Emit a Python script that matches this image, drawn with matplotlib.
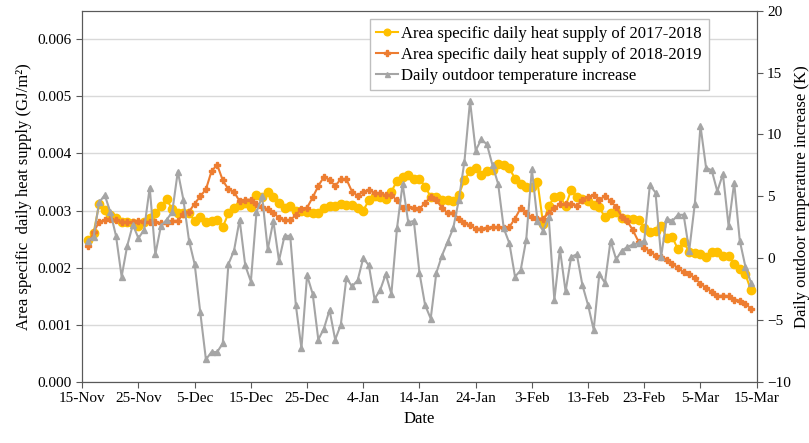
import matplotlib.pyplot as plt

plt.rcParams['font.family'] = ['Liberation Serif', 'DejaVu Serif']

# day offsets from 15-Nov (1 = 16-Nov ... 119 = 14-Mar)
days = list(range(1, 120))

tickPos = list(range(0, 121, 10))
tickLabels = ['15-Nov', '25-Nov', '5-Dec', '15-Dec', '25-Dec', '4-Jan', '14-Jan',
              '24-Jan', '3-Feb', '13-Feb', '23-Feb', '5-Mar', '15-Mar']

# area specific daily heat supply 2017-2018 (GJ/m2)
heat1718 = [
    0.00249, 0.00260, 0.00311, 0.00301, 0.00293, 0.00287, 0.00280, 0.00280, 0.00278, 0.00272,
    0.00280, 0.00287, 0.00295, 0.00308, 0.00320, 0.00302, 0.00295, 0.00295, 0.00296, 0.00281,
    0.00289, 0.00280, 0.00282, 0.00284, 0.00271, 0.00295, 0.00304, 0.00310, 0.00314, 0.00306,
    0.00327, 0.00323, 0.00333, 0.00323, 0.00313, 0.00304, 0.00308, 0.00299, 0.00299, 0.00298,
    0.00296, 0.00296, 0.00304, 0.00308, 0.00308, 0.00312, 0.00309, 0.00309, 0.00304, 0.00300,
    0.00318, 0.00325, 0.00323, 0.00321, 0.00333, 0.00352, 0.00359, 0.00362, 0.00356, 0.00356,
    0.00342, 0.00324, 0.00323, 0.00319, 0.00318, 0.00317, 0.00328, 0.00353, 0.00369, 0.00375,
    0.00363, 0.00369, 0.00371, 0.00382, 0.00380, 0.00374, 0.00356, 0.00347, 0.00342, 0.00342,
    0.00350, 0.00277, 0.00308, 0.00324, 0.00326, 0.00308, 0.00336, 0.00323, 0.00321, 0.00317,
    0.00309, 0.00306, 0.00288, 0.00296, 0.00298, 0.00287, 0.00285, 0.00286, 0.00284, 0.00270,
    0.00263, 0.00264, 0.00273, 0.00252, 0.00253, 0.00232, 0.00244, 0.00228, 0.00225, 0.00224,
    0.00218, 0.00227, 0.00228, 0.00221, 0.00220, 0.00206, 0.00197, 0.00188, 0.00160,
]

# area specific daily heat supply 2018-2019 (GJ/m2)
heat1819 = [
    0.00238, 0.00262, 0.00280, 0.00283, 0.00285, 0.00283, 0.00280, 0.00279, 0.00280, 0.00282,
    0.00280, 0.00280, 0.00279, 0.00278, 0.00278, 0.00282, 0.00282, 0.00294, 0.00298, 0.00312,
    0.00325, 0.00337, 0.00369, 0.00380, 0.00353, 0.00337, 0.00333, 0.00316, 0.00319, 0.00319,
    0.00311, 0.00306, 0.00302, 0.00296, 0.00287, 0.00283, 0.00283, 0.00292, 0.00303, 0.00305,
    0.00323, 0.00343, 0.00359, 0.00354, 0.00343, 0.00355, 0.00355, 0.00333, 0.00326, 0.00333,
    0.00336, 0.00331, 0.00330, 0.00327, 0.00327, 0.00318, 0.00304, 0.00306, 0.00305, 0.00302,
    0.00314, 0.00323, 0.00319, 0.00304, 0.00296, 0.00296, 0.00286, 0.00278, 0.00274, 0.00268,
    0.00268, 0.00270, 0.00271, 0.00271, 0.00270, 0.00271, 0.00286, 0.00304, 0.00296, 0.00288,
    0.00286, 0.00286, 0.00296, 0.00304, 0.00311, 0.00312, 0.00312, 0.00308, 0.00319, 0.00324,
    0.00327, 0.00319, 0.00325, 0.00317, 0.00306, 0.00289, 0.00281, 0.00265, 0.00245, 0.00235,
    0.00228, 0.00221, 0.00219, 0.00214, 0.00207, 0.00199, 0.00192, 0.00188, 0.00182, 0.00171,
    0.00165, 0.00157, 0.00150, 0.00151, 0.00150, 0.00144, 0.00142, 0.00136, 0.00128,
]

# daily outdoor temperature increase (K)
tempIncrease = [
    1.4, 1.7, 4.5, 5.1, 3.7, 1.8, -1.5, 1.0, 2.7, 1.6,
    2.3, 5.7, 0.3, 2.6, 3.1, 3.7, 7.0, 4.7, 1.4, -0.5,
    -4.4, -8.2, -7.6, -7.6, -6.9, -0.5, 0.6, 3.1, -0.6, -1.9,
    3.7, 5.0, 0.7, 3.0, -0.2, 1.8, 1.8, -3.8, -7.3, -1.4,
    -2.9, -6.6, -5.7, -4.2, -6.6, -5.4, -1.6, -2.3, -1.8, 0.0,
    -0.6, -3.3, -2.6, -1.3, -2.9, 2.4, 6.0, 2.9, 3.0, -1.2,
    -3.8, -4.9, -1.2, 0.2, 1.3, 2.4, 4.7, 7.8, 12.7, 8.7,
    9.6, 9.2, 7.5, 6.0, 2.4, 1.2, -1.5, -1.0, 1.5, 7.2,
    3.0, 2.2, 3.3, -3.4, 0.7, -2.7, 0.1, 0.3, -2.2, -3.8,
    -5.8, -1.3, -2.0, 1.4, -0.1, 0.6, 0.9, 1.1, 1.2, 1.4,
    5.9, 5.3, 0.1, 3.2, 3.0, 3.5, 3.5, 0.6, 4.4, 10.7,
    7.3, 7.1, 5.4, 6.8, 2.6, 6.1, 1.4, -0.7, -2.0,
]

fig = plt.figure(figsize=(8.09, 4.43), dpi=100)
ax = fig.add_axes([0.1017, 0.1384, 0.8336, 0.8372])
ax2 = ax.twinx()

l1, = ax.plot(days, heat1718, color='#FFC000', marker='o', markersize=6, linewidth=1.5,
              label='Area specific daily heat supply of 2017-2018')
l2, = ax.plot(days, heat1819, color='#ED7D31', marker='P', markersize=5, linewidth=1.5,
              label='Area specific daily heat supply of 2018-2019')
l3, = ax2.plot(days, tempIncrease, color='#A5A5A5', marker='^', markersize=4.5, linewidth=1.5,
               label='Daily outdoor temperature increase')

ax.set_xlim(0, 120)
ax.set_ylim(0, 0.0065)
ax2.set_ylim(-10, 20)
ax.set_xticks(tickPos)
ax.set_xticklabels(tickLabels)
ax.set_yticks([i * 0.001 for i in range(7)])
ax.set_yticklabels([f'{i * 0.001:.3f}' for i in range(7)])
ax2.set_yticks(range(-10, 21, 5))

ax.grid(axis='y', color='#D9D9D9', linewidth=1)
ax.set_axisbelow(True)
for a in (ax, ax2):
    for s in a.spines.values():
        s.set_color('#595959')
    a.tick_params(labelsize=11, color='#595959', direction='out', length=4)

ax.set_xlabel('Date', fontsize=12)
ax.set_ylabel('Area specific  daily heat supply (GJ/m²)', fontsize=12)
ax2.set_ylabel('Daily outdoor temperature increase (K)', fontsize=12, labelpad=2)

leg = fig.legend(handles=[l1, l2, l3], loc='upper left', bbox_to_anchor=(0.457, 0.957),
                 fontsize=12, fancybox=False, edgecolor='#BFBFBF', framealpha=1,
                 handlelength=1.3, markerscale=0.8, borderpad=0.4, labelspacing=0.3,
                 handletextpad=0.2, borderaxespad=0)
leg.get_frame().set_linewidth(1)

plt.savefig('out.png', dpi=100)
